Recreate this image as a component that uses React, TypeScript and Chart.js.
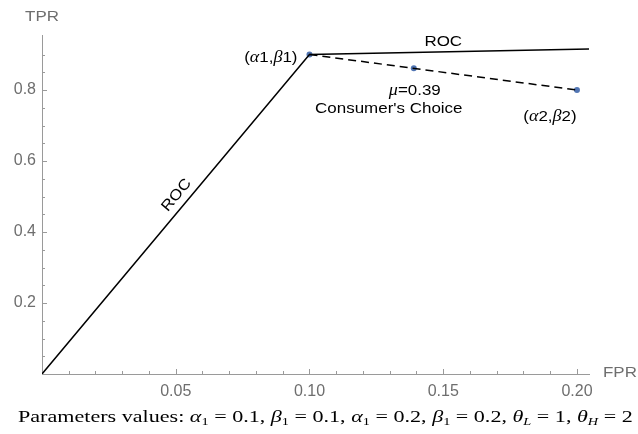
import { useEffect, useRef } from 'react';
import { Chart, registerables } from 'chart.js';

Chart.register(...registerables);

// ---- data ----
const rocFPR = [0, 0.1, 0.2045];
const rocTPR = [0, 0.9, 0.9155];
const choiceFPR = [0.1, 0.2];
const choiceTPR = [0.9, 0.8];
const pointFPR = [0.1, 0.139, 0.2];
const pointTPR = [0.9, 0.861, 0.8];

const xMajorTicks = [0.05, 0.1, 0.15, 0.2];
const xMinorTicks = [0.01, 0.02, 0.03, 0.04, 0.06, 0.07, 0.08, 0.09, 0.11, 0.12, 0.13, 0.14, 0.16, 0.17, 0.18, 0.19];
const yMajorTicks = [0.2, 0.4, 0.6, 0.8];
const yMinorTicks = [0.05, 0.1, 0.15, 0.25, 0.3, 0.35, 0.45, 0.5, 0.55, 0.65, 0.7, 0.75, 0.85, 0.9];

const xAxisTitle = 'FPR';
const yAxisTitle = 'TPR';

type Run = { t: string; it?: boolean };
// label runs, anchor in data units
const labelRuns: Run[][] = [
  [{ t: '(' }, { t: 'α', it: true }, { t: '1,' }, { t: 'β', it: true }, { t: '1)' }],
  [{ t: 'μ', it: true }, { t: '=0.39' }],
  [{ t: "Consumer's Choice" }],
  [{ t: '(' }, { t: 'α', it: true }, { t: '2,' }, { t: 'β', it: true }, { t: '2)' }],
  [{ t: 'ROC' }],
  [{ t: 'ROC' }],
];
const labelX = [0.1, 0.139, 0.139, 0.2, 0.15, 0.0537];
const labelY = [0.9, 0.861, 0.861, 0.8, 0.908, 0.484];

// styling of labels (pixel offsets, alignment, rotation)
const labelStyle = [
  { dx: -12, dy: 3, align: 'right', rot: 0 },
  { dx: 1, dy: 22, align: 'center', rot: 0 },
  { dx: -25, dy: 40, align: 'center', rot: 0 },
  { dx: -27, dy: 27, align: 'center', rot: 0 },
  { dx: 0, dy: -10, align: 'center', rot: 0 },
  { dx: -9, dy: -7, align: 'center', rot: -50 },
];

const SANS = '"Liberation Sans", Arial, sans-serif';
const SERIF = '"Liberation Serif", "Times New Roman", serif';
const STRETCH = 1.13;

function runFont(r: Run, size: number) {
  return r.it ? `italic ${size}px ${SERIF}` : `${size}px ${SANS}`;
}

function drawRuns(ctx: CanvasRenderingContext2D, runs: Run[], x: number, y: number, align: string, size: number) {
  let w = 0;
  for (const r of runs) {
    ctx.font = runFont(r, size + (r.it ? 1 : 0));
    w += ctx.measureText(r.t).width;
  }
  let cx = align === 'right' ? x - w : align === 'center' ? x - w / 2 : x;
  for (const r of runs) {
    ctx.font = runFont(r, size + (r.it ? 1 : 0));
    ctx.fillText(r.t, cx, y);
    cx += ctx.measureText(r.t).width;
  }
}

const overlay = {
  id: 'overlay',
  afterDatasetsDraw(chart: any) {
    const ctx: CanvasRenderingContext2D = chart.ctx;
    const xs = chart.scales.x;
    const ys = chart.scales.y;
    const x0 = xs.getPixelForValue(0);
    const y0 = ys.getPixelForValue(0);
    ctx.save();
    ctx.strokeStyle = '#9a9a9a';
    ctx.lineWidth = 1;
    ctx.beginPath();
    for (const v of xMajorTicks) {
      const p = Math.round(xs.getPixelForValue(v)) + 0.5;
      ctx.moveTo(p, y0);
      ctx.lineTo(p, y0 - 5);
    }
    for (const v of xMinorTicks) {
      const p = Math.round(xs.getPixelForValue(v)) + 0.5;
      ctx.moveTo(p, y0);
      ctx.lineTo(p, y0 - 3);
    }
    for (const v of yMajorTicks) {
      const p = Math.round(ys.getPixelForValue(v)) + 0.5;
      ctx.moveTo(x0, p);
      ctx.lineTo(x0 + 5, p);
    }
    for (const v of yMinorTicks) {
      const p = Math.round(ys.getPixelForValue(v)) + 0.5;
      ctx.moveTo(x0, p);
      ctx.lineTo(x0 + 3, p);
    }
    ctx.stroke();

    // axis titles
    ctx.fillStyle = '#6e6e6e';
    ctx.font = `15px ${SANS}`;
    ctx.textBaseline = 'middle';
    ctx.save();
    ctx.translate(x0, chart.chartArea.top - 18);
    ctx.scale(STRETCH, 1);
    ctx.textAlign = 'center';
    ctx.fillText(yAxisTitle, 0, 0);
    ctx.restore();
    ctx.save();
    ctx.translate(chart.chartArea.right + 14, y0 - 1);
    ctx.scale(STRETCH, 1);
    ctx.textAlign = 'left';
    ctx.fillText(xAxisTitle, 0, 0);
    ctx.restore();

    // annotations
    ctx.fillStyle = '#000';
    ctx.textAlign = 'left';
    ctx.textBaseline = 'middle';
    labelRuns.forEach((runs, i) => {
      const st = labelStyle[i];
      const px = xs.getPixelForValue(labelX[i]) + st.dx;
      const py = ys.getPixelForValue(labelY[i]) + st.dy;
      ctx.save();
      ctx.translate(px, py);
      ctx.rotate((st.rot * Math.PI) / 180);
      ctx.scale(STRETCH, 1);
      drawRuns(ctx, runs, 0, 0, st.align, 15);
      ctx.restore();
    });
    ctx.restore();
  },
};

export default function App() {
  const ref = useRef<HTMLCanvasElement>(null);
  useEffect(() => {
    document.body.style.margin = '0';
    const chart = new Chart(ref.current!, {
      type: 'scatter',
      data: {
        datasets: [
          {
            data: rocFPR.map((x, i) => ({ x, y: rocTPR[i] })),
            showLine: true,
            borderColor: '#000',
            borderWidth: 1.5,
            pointRadius: 0,
          },
          {
            data: choiceFPR.map((x, i) => ({ x, y: choiceTPR[i] })),
            showLine: true,
            borderColor: '#000',
            borderWidth: 1.5,
            borderDash: [8, 5],
            pointRadius: 0,
          },
          {
            data: pointFPR.map((x, i) => ({ x, y: pointTPR[i] })),
            showLine: false,
            pointRadius: 3,
            pointBackgroundColor: '#5175b3',
            pointBorderWidth: 0,
          },
        ],
      },
      options: {
        responsive: false,
        animation: false,
        devicePixelRatio: 1,
        layout: { padding: { top: 35, right: 49, left: 0, bottom: 0 } },
        plugins: { legend: { display: false }, tooltip: { enabled: false } },
        scales: {
          x: {
            type: 'linear',
            min: 0,
            max: 0.2045,
            grid: { display: false, drawTicks: false },
            border: { display: true, color: '#9a9a9a', width: 1 },
            ticks: {
              font: { family: SANS, size: 16 },
              color: '#6e6e6e',
              padding: 8,
              autoSkip: false,
              maxRotation: 0,
              callback: (v: any) => Number(v).toFixed(2),
            },
            afterBuildTicks: (s: any) => {
              s.ticks = xMajorTicks.map((value) => ({ value }));
            },
            afterFit: (s: any) => {
              s.height = 60;
            },
          },
          y: {
            type: 'linear',
            min: 0,
            max: 0.955,
            grid: { display: false, drawTicks: false },
            border: { display: true, color: '#9a9a9a', width: 1 },
            ticks: {
              font: { family: SANS, size: 16 },
              color: '#6e6e6e',
              padding: 6,
              autoSkip: false,
              callback: (v: any) => Number(v).toFixed(1),
            },
            afterBuildTicks: (s: any) => {
              s.ticks = yMajorTicks.map((value) => ({ value }));
            },
            afterFit: (s: any) => {
              s.width = 42;
            },
          },
        },
      },
      plugins: [overlay],
    });
    return () => chart.destroy();
  }, []);

  const sub: any = { fontSize: '11px', position: 'relative', top: '3px', verticalAlign: 'baseline' };
  return (
    <div style={{ position: 'relative', width: 638, height: 434 }}>
      <canvas ref={ref} width={638} height={434} style={{ display: 'block' }} />
      <div
        style={{
          position: 'absolute',
          left: 18,
          top: 407,
          fontFamily: SERIF,
          fontSize: '17px',
          whiteSpace: 'nowrap',
          color: '#000',
          lineHeight: '20px',
          transform: 'scaleX(1.3)',
          transformOrigin: 'left top',
        }}
      >
        Parameters values: <i>α</i><span style={sub}>1</span> = 0.1, <i>β</i><span style={sub}>1</span> = 0.1,{' '}
        <i>α</i><span style={sub}>1</span> = 0.2, <i>β</i><span style={sub}>1</span> = 0.2, <i>θ</i>
        <span style={sub}><i>L</i></span> = 1, <i>θ</i><span style={sub}><i>H</i></span> = 2
      </div>
    </div>
  );
}
